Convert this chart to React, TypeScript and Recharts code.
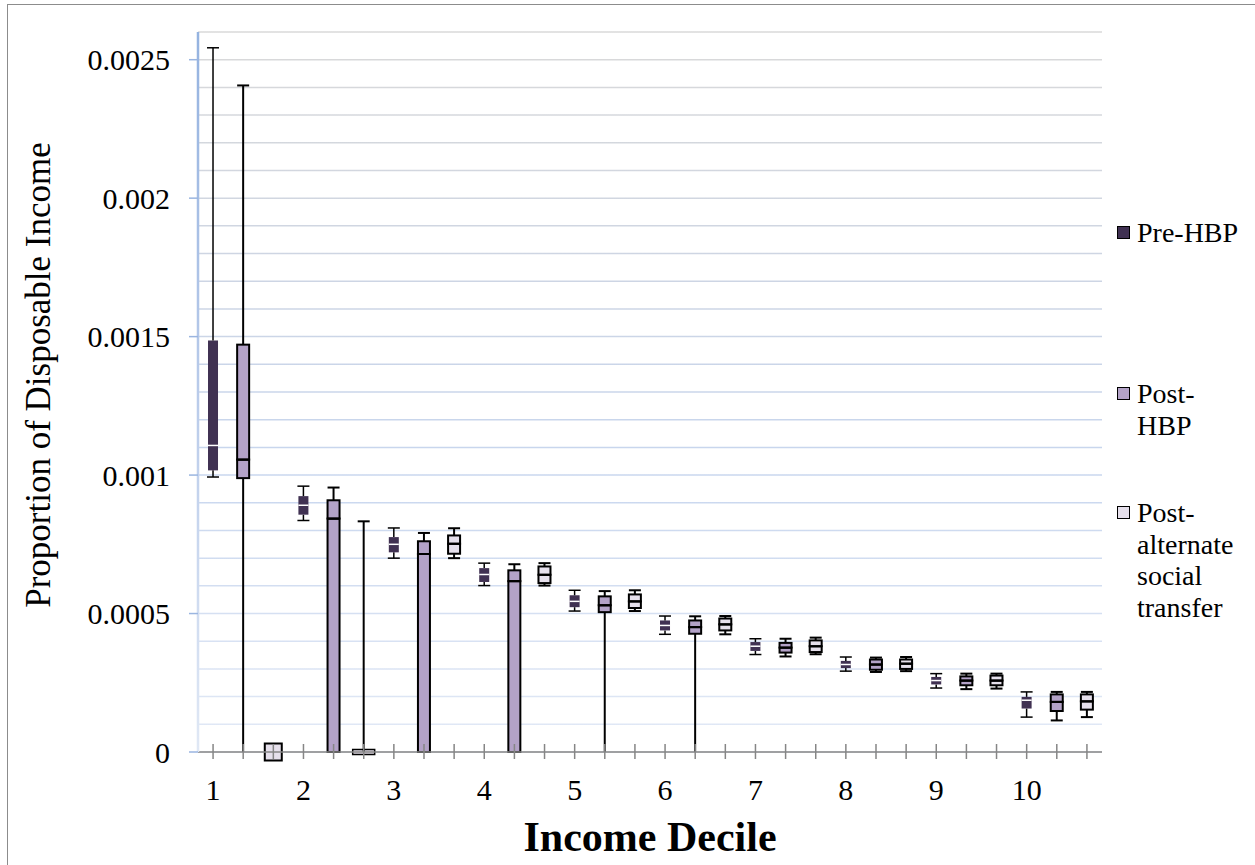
import React from 'react';
import { ComposedChart, Bar, XAxis, YAxis, CartesianGrid, Legend } from 'recharts';

const FONT = "'Liberation Serif', 'Times New Roman', serif";

// categories
const deciles = ['1', '2', '3', '4', '5', '6', '7', '8', '9', '10'];
const seriesNames = ['Pre-HBP', 'Post-HBP', 'Post-alternate social transfer'];
// legend text is broken over lines the same way as the original
const legendLines = [['Pre-HBP'], ['Post-', 'HBP'], ['Post-', 'alternate', 'social', 'transfer']];
const seriesColors = ['#403152', '#b3a2c7', '#e6e0ec'];

// Pre-HBP box values per decile
const preMin = [0.000993, 0.000836, 0.0007, 0.000601, 0.000509, 0.000425, 0.000352, 0.000292, 0.000231, 0.000126];
const preQ1 = [0.001017, 0.000857, 0.000721, 0.000614, 0.000523, 0.000439, 0.000365, 0.000303, 0.000244, 0.000157];
const preMed = [0.001107, 0.000891, 0.00075, 0.000641, 0.000544, 0.000457, 0.000382, 0.000316, 0.000258, 0.000187];
const preQ3 = [0.001486, 0.000924, 0.000776, 0.000664, 0.000566, 0.000475, 0.000397, 0.000329, 0.000271, 0.000199];
const preMax = [0.002543, 0.00096, 0.000809, 0.000682, 0.000584, 0.000491, 0.000409, 0.000343, 0.000283, 0.000217];

// Post-HBP
const postMin = [0, 0, 0, 0, 0, 0, 0.000345, 0.000289, 0.000227, 0.000114];
const postQ1 = [0.000989, 0, 0, 0, 0.000505, 0.000427, 0.000359, 0.000297, 0.000241, 0.000148];
const postMed = [0.001056, 0.000843, 0.000715, 0.000617, 0.00053, 0.000451, 0.000377, 0.000316, 0.000258, 0.000181];
const postQ3 = [0.001471, 0.000909, 0.000761, 0.000656, 0.000562, 0.000475, 0.000394, 0.000334, 0.000273, 0.000208];
const postMax = [0.002407, 0.000955, 0.000791, 0.000678, 0.000581, 0.00049, 0.000409, 0.000341, 0.000283, 0.000217];

// Post-alternate social transfer
const altMin = [0, 0, 0.0007, 0.000601, 0.000509, 0.000425, 0.000353, 0.000292, 0.000229, 0.000126];
const altQ1 = [0, 0, 0.000716, 0.00061, 0.00052, 0.000439, 0.000361, 0.0003, 0.000241, 0.000153];
const altMed = [0, 0, 0.000752, 0.00064, 0.000544, 0.000461, 0.000382, 0.000319, 0.000258, 0.000183];
const altQ3 = [0, 0, 0.000782, 0.00067, 0.000569, 0.000482, 0.000403, 0.000334, 0.000276, 0.000208];
const altMax = [0, 0.000833, 0.000808, 0.000682, 0.000584, 0.000491, 0.000413, 0.000343, 0.000283, 0.000217];

// y gridlines every 0.0001, labels every 0.0005
const yTicks = [
  0, 0.0001, 0.0002, 0.0003, 0.0004, 0.0005, 0.0006, 0.0007, 0.0008, 0.0009, 0.001,
  0.0011, 0.0012, 0.0013, 0.0014, 0.0015, 0.0016, 0.0017, 0.0018, 0.0019, 0.002,
  0.0021, 0.0022, 0.0023, 0.0024, 0.0025, 0.0026,
];

const sets = [
  { min: preMin, q1: preQ1, med: preMed, q3: preQ3, max: preMax },
  { min: postMin, q1: postQ1, med: postMed, q3: postQ3, max: postMax },
  { min: altMin, q1: altQ1, med: altMed, q3: altQ3, max: altMax },
];

// one category slot per (decile, series); stacked segments make up each box
const rows = deciles.flatMap((d, i) =>
  sets.map((s, g) => ({
    slot: `${d}-${g}`,
    decile: d,
    group: g,
    min: s.min[i],
    q1: s.q1[i],
    med: s.med[i],
    q3: s.q3[i],
    max: s.max[i],
    base: s.min[i],
    lowWhisker: s.q1[i] - s.min[i],
    lowBox: s.med[i] - s.q1[i],
    highBox: s.q3[i] - s.med[i],
    highWhisker: s.max[i] - s.q3[i],
  }))
);

const boxWidth = (g: number) => (g === 0 ? 10 : 12);

const LowWhisker = (props: any) => {
  const { x, y, width, height, payload } = props;
  if (!payload || !(height > 0)) return <g />;
  const cx = x + width / 2;
  const sw = payload.group === 0 ? 1.5 : 2;
  return (
    <g>
      <line x1={cx} x2={cx} y1={y} y2={y + height} stroke="#000" strokeWidth={sw} />
      {payload.min > 0 && (
        <line x1={cx - 6} x2={cx + 6} y1={y + height} y2={y + height} stroke="#000" strokeWidth={sw} />
      )}
    </g>
  );
};

const HighWhisker = (props: any) => {
  const { x, y, width, height, payload } = props;
  if (!payload || !(height > 0)) return <g />;
  const cx = x + width / 2;
  const sw = payload.group === 0 ? 1.5 : 2;
  return (
    <g>
      <line x1={cx} x2={cx} y1={y} y2={y + height} stroke="#000" strokeWidth={sw} />
      <line x1={cx - 6} x2={cx + 6} y1={y} y2={y} stroke="#000" strokeWidth={sw} />
    </g>
  );
};

const LowBox = (props: any) => {
  const { x, y, width, height, payload } = props;
  if (!payload) return <g />;
  const g = payload.group;
  const cx = x + width / 2;
  const fill = seriesColors[g];
  // degenerate boxes (all quartiles at zero)
  if (payload.q3 === payload.q1) {
    if (payload.max === payload.min) {
      return <rect x={cx - 8.5} y={y - 8.5} width={17} height={17} fill={fill} stroke="#000" strokeWidth={2} />;
    }
    return <rect x={cx - 11} y={y - 2.5} width={22} height={5} fill={fill} stroke="#000" strokeWidth={1.5} />;
  }
  if (!(height > 0)) return <g />;
  const w = boxWidth(g);
  return (
    <rect
      x={cx - w / 2}
      y={y}
      width={w}
      height={height}
      fill={fill}
      stroke={g === 0 ? 'none' : '#000'}
      strokeWidth={2}
    />
  );
};

const HighBox = (props: any) => {
  const { x, y, width, height, payload } = props;
  if (!payload || !(height > 0)) return <g />;
  const g = payload.group;
  const cx = x + width / 2;
  const w = boxWidth(g);
  return (
    <g>
      <rect
        x={cx - w / 2}
        y={y}
        width={w}
        height={height}
        fill={seriesColors[g]}
        stroke={g === 0 ? 'none' : '#000'}
        strokeWidth={2}
      />
      <line
        x1={cx - w / 2}
        x2={cx + w / 2}
        y1={y + height}
        y2={y + height}
        stroke={g === 0 ? '#fff' : '#000'}
        strokeWidth={g === 0 ? 1.5 : 2}
      />
    </g>
  );
};

const XTick = (props: any) => {
  const { x, y, index } = props;
  const row = rows[index];
  return (
    <g>
      <line x1={x} x2={x} y1={y - 8} y2={y + 7} stroke="#868686" strokeWidth={1.5} />
      {row && row.group === 0 && (
        <text x={x} y={y + 48} textAnchor="middle" fontFamily={FONT} fontSize={30} fill="#000">
          {row.decile}
        </text>
      )}
    </g>
  );
};

const YTick = (props: any) => {
  const { x, y, index, payload } = props;
  if (index % 5 !== 0) return <g />;
  return (
    <g>
      <line x1={x - 9} x2={x} y1={y} y2={y} stroke="#9ab5e0" strokeWidth={1.5} />
      <text x={x - 28} y={y} dy="0.35em" textAnchor="end" fontFamily={FONT} fontSize={30} fill="#000">
        {String(payload.value)}
      </text>
    </g>
  );
};

const renderLegend = () => {
  const tops = [217, 378, 497];
  return (
    <div style={{ position: 'relative', fontFamily: FONT, fontSize: 28, lineHeight: '31.5px', color: '#000' }}>
      {seriesNames.map((name, i) => (
        <div key={name} style={{ position: 'absolute', left: 0, top: tops[i], display: 'flex', whiteSpace: 'nowrap' }}>
          <span
            style={{
              display: 'inline-block',
              width: 11,
              height: 11,
              marginTop: 9,
              marginRight: 7,
              border: '1.5px solid #000',
              background: seriesColors[i],
              flex: 'none',
            }}
          />
          <div>
            {legendLines[i].map((l) => (
              <div key={l}>{l}</div>
            ))}
          </div>
        </div>
      ))}
    </div>
  );
};

export default function App() {
  return (
    <div style={{ position: 'absolute', left: 0, top: 0, width: 1255, height: 865, overflow: 'hidden', background: '#fff' }}>
      <div
        style={{
          position: 'absolute',
          left: 7,
          top: 4,
          width: 1270,
          height: 900,
          border: '1.5px solid #8c8c8c',
        }}
      />
      <ComposedChart
        width={1255}
        height={865}
        data={rows}
        margin={{ top: 32, right: 153, bottom: 0, left: 0 }}
        barCategoryGap="10%"
      >
        <defs>
          <linearGradient id="gridGrad" gradientUnits="userSpaceOnUse" x1="0" y1="32" x2="0" y2="752">
            <stop offset="0" stopColor="#d9d9d9" />
            <stop offset="0.35" stopColor="#cdd5e4" />
            <stop offset="0.6" stopColor="#c8d6ee" />
            <stop offset="1" stopColor="#e2e9f6" />
          </linearGradient>
          <linearGradient id="yAxisGrad" gradientUnits="userSpaceOnUse" x1="0" y1="32" x2="0" y2="752">
            <stop offset="0" stopColor="#95b3e0" />
            <stop offset="0.5" stopColor="#b9cbea" />
            <stop offset="1" stopColor="#e0e8f5" />
          </linearGradient>
        </defs>
        <CartesianGrid vertical={false} stroke="url(#gridGrad)" strokeWidth={1.5} />
        <XAxis
          dataKey="slot"
          interval={0}
          height={113}
          tickLine={false}
          tickSize={0}
          tickMargin={0}
          axisLine={{ stroke: '#868686', strokeWidth: 1.5 }}
          tick={<XTick />}
          label={{
            content: (p: any) => {
              const vb = p.viewBox;
              return (
                <text
                  x={vb.x + vb.width / 2}
                  y={vb.y + 99}
                  textAnchor="middle"
                  fontFamily={FONT}
                  fontWeight="bold"
                  fontSize={42}
                  fill="#000"
                >
                  Income Decile
                </text>
              );
            },
          }}
        />
        <YAxis
          type="number"
          domain={[0, 0.0026]}
          ticks={yTicks}
          interval={0}
          width={198}
          tickLine={false}
          tickSize={0}
          tickMargin={0}
          axisLine={{ stroke: 'url(#yAxisGrad)', strokeWidth: 2.5 }}
          tick={<YTick />}
          label={{
            content: (p: any) => {
              const vb = p.viewBox;
              const cx = vb.x + 50;
              const cy = vb.y + vb.height / 2 - 17;
              return (
                <text
                  x={cx}
                  y={cy}
                  transform={`rotate(-90, ${cx}, ${cy})`}
                  textAnchor="middle"
                  fontFamily={FONT}
                  fontSize={35}
                  fill="#000"
                >
                  Proportion of Disposable Income
                </text>
              );
            },
          }}
        />
        <Legend
          layout="horizontal"
          align="center"
          verticalAlign="middle"
          wrapperStyle={{ left: 1117, top: 0, width: 138 }}
          content={renderLegend}
        />
        <Bar dataKey="base" stackId="box" fill="none" isAnimationActive={false} legendType="none" />
        <Bar dataKey="lowWhisker" stackId="box" shape={LowWhisker} isAnimationActive={false} legendType="none" />
        <Bar dataKey="lowBox" stackId="box" shape={LowBox} isAnimationActive={false} legendType="none" />
        <Bar dataKey="highBox" stackId="box" shape={HighBox} isAnimationActive={false} legendType="none" />
        <Bar dataKey="highWhisker" stackId="box" shape={HighWhisker} isAnimationActive={false} legendType="none" />
      </ComposedChart>
    </div>
  );
}
